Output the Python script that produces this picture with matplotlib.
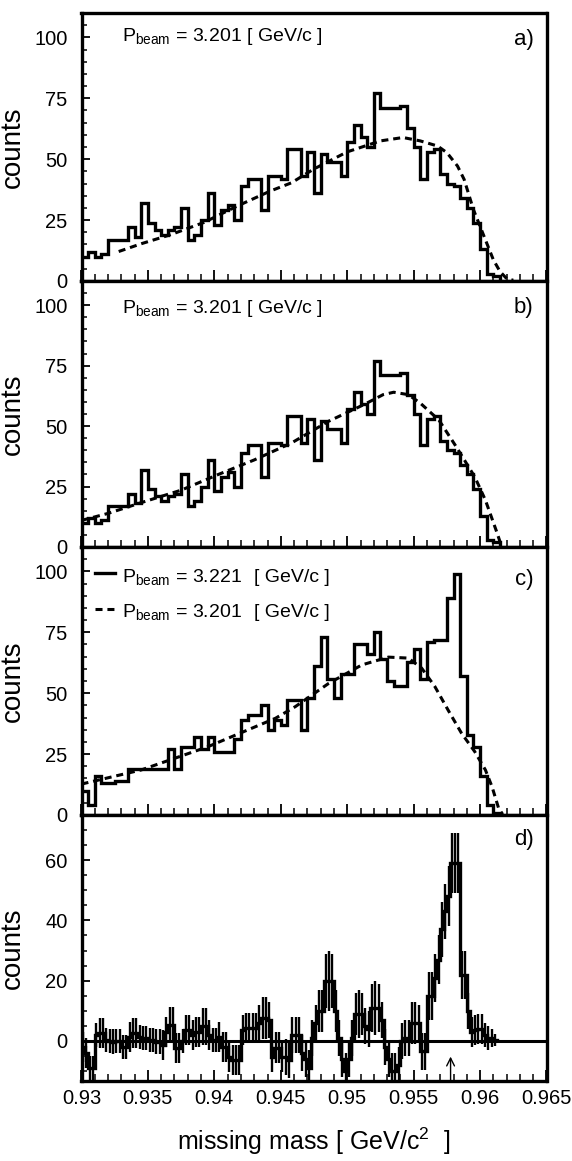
import matplotlib
matplotlib.use('Agg')
import matplotlib.pyplot as plt
import numpy as np
from matplotlib.ticker import MultipleLocator, FixedLocator

plt.rcParams['font.family'] = ['Liberation Sans', 'DejaVu Sans']
plt.rcParams['mathtext.default'] = 'regular'

# ---------------- data ----------------
bin_lo = 0.93
bin_w = 0.0005          # panels a-c
bin_w_d = 0.00025       # panel d

# P_beam = 3.201 GeV/c histogram (panels a, b)
hist_3201 = [10, 12, 10, 11, 17, 17, 17, 22, 18, 32,
             24, 21, 19, 21, 22, 30, 17, 19, 25, 36,
             23, 29, 31, 25, 39, 42, 42, 29, 43, 43,
             42, 54, 54, 43, 53, 36, 52, 49, 49, 43,
             57, 64, 59, 55, 77, 71, 71, 71, 72, 63,
             55, 42, 53, 54, 44, 40, 39, 34, 30, 24,
             13, 3, 2]

# P_beam = 3.221 GeV/c histogram (panel c)
hist_3221 = [10, 4, 16, 13, 13, 14, 14, 19, 19, 19,
             19, 19, 19, 27, 19, 28, 28, 32, 27, 32,
             26, 26, 26, 31, 39, 41, 41, 45, 35, 39,
             37, 47, 47, 35, 48, 61, 73, 56, 48, 58,
             58, 70, 70, 66, 75, 64, 55, 53, 53, 63,
             68, 56, 71, 72, 72, 89, 99, 57, 33, 28,
             16, 4, 1]

# difference spectrum (panel d)
diff_vals = [-2, -4, -9, -9, 2, 2.5, 2.5, 0.3, 0, -0.2,
             0, 0, -2, -2, 1.4, 2.5, 2.5, 1.4, 1, 1,
             0.3, 0.3, -0.2, -0.2, -1.3, 3, 5.3, 5.3, -2.4, -2.4,
             0, 3.6, 3.6, 2, 3, 3, 4.8, 4.8, 2, 0.3,
             0.3, 1.4, -2, -2, -5.2, -6.3, -6.3, -6.3, 3.6, 4.2,
             4.2, 4.2, 4.2, 5.9, 7.5, 7.5, 7, -5.2, -2.2, -2.2,
             -5.2, -5.2, -6.3, 2, 2, 2,
             -4, -6, -9, 1, 6, 10, 10, 20, 20, 20,
             10, 1, -6, -10, -6, 1, 9, 9, 9, 5,
             4, 11, 11, 11, 7, -2, -6, -10, -10, -8,
             0, 1, 1, 6, 6, 6, -3.5, -3.5, 15, 15,
             21, 27, 37, 43, 48, 59, 59, 59, 22, 22,
             10, 3, 3.6, 4, 4, 2, 1, 1, 0.3]
diff_err = [5, 5, 4, 4, 4, 5, 5, 4, 4, 4,
            4, 4, 4, 4, 5, 5, 5, 4, 4, 4,
            4, 4, 4, 4, 5, 5, 6, 6, 5, 5,
            4, 5, 5, 5, 5, 5, 6, 6, 5, 4,
            4, 5, 5, 5, 5, 5, 5, 5, 5, 5,
            5, 5, 5, 6, 7, 7, 6, 5, 5, 5,
            5, 6, 6, 6, 6, 6,
            6, 6, 6, 6, 6, 7, 7, 9, 10, 9,
            7, 6, 6, 6, 6, 6, 7, 8, 7, 6,
            6, 8, 9, 8, 6, 6, 6, 6, 6, 6,
            6, 6, 6, 7, 7, 6, 6, 6, 8, 8,
            8, 8, 9, 9, 10, 10, 10, 10, 8, 8,
            6, 5, 5, 5, 5, 4, 4, 3, 2]

# dashed fit curves
curve_a_x = [0.9328, 0.9345, 0.9367, 0.9392, 0.9417, 0.9442, 0.9458, 0.9475,
             0.9500, 0.9525, 0.9542, 0.9555, 0.9568, 0.9575, 0.9583, 0.9588,
             0.9595, 0.9603, 0.9610, 0.9615, 0.9620, 0.9625]
curve_a_y = [12.1, 15.3, 19.0, 24.0, 30.7, 36.9, 40.3, 46.0,
             53.0, 57.5, 58.9, 57.5, 55.4, 52.7, 47.2, 41.7,
             29.3, 18.3, 8.7, 3.9, 1.0, 0.3]

curve_b_x = [0.9300, 0.9320, 0.9347, 0.9375, 0.9403, 0.9430, 0.9458, 0.9486,
             0.9513, 0.9527, 0.9535, 0.9546, 0.9555, 0.9569, 0.9582, 0.9596,
             0.9604, 0.9613, 0.9616]
curve_b_y = [11, 13.9, 18.7, 23.5, 30, 36, 43, 52,
             59, 63, 64, 63, 59.5, 52.5, 41.5, 29,
             19.4, 5.5, 0.5]

curve_c_x = [0.9300, 0.9345, 0.9395, 0.9446, 0.9461, 0.9486, 0.9511, 0.9531,
             0.9546, 0.9556, 0.9566, 0.9576, 0.9586, 0.9596, 0.9604, 0.9609,
             0.9614, 0.9617]
curve_c_y = [12.7, 18.5, 28, 39.7, 44.5, 54, 61.6, 64.8,
             64.4, 60.3, 52.7, 43, 33.6, 26, 18.5, 11.6,
             2.7, 0.3]

eta_prime_mass = 0.95778

x_ticks = [0.93, 0.935, 0.94, 0.945, 0.95, 0.955, 0.96, 0.965]
x_ticklabels = ['0.93', '0.935', '0.94', '0.945', '0.95', '0.955', '0.96', '0.965']
y_ticks_abc = [0, 25, 50, 75, 100]
y_ticks_d = [0, 20, 40, 60]

# ---------------- figure ----------------
W_PX, H_PX = 572, 1161
fig = plt.figure(figsize=(W_PX / 100, H_PX / 100), dpi=100)
LEFT, RIGHT = 81.5, 546.5
panels_px = [(13, 281), (281, 547), (547, 815), (815, 1081)]

axes = []
for top, bot in panels_px:
    ax = fig.add_axes([LEFT / W_PX, 1 - bot / H_PX, (RIGHT - LEFT) / W_PX, (bot - top) / H_PX])
    axes.append(ax)

DASH = (0, (2.3, 1.6))
HLW = 2.4
DLW = 2.2
TXT = 14

def style(ax, ylim, yticks, show_x):
    ax.set_xlim(0.93, 0.965)
    ax.set_ylim(*ylim)
    for s in ax.spines.values():
        s.set_linewidth(2.4)
    ax.xaxis.set_major_locator(FixedLocator(x_ticks))
    ax.xaxis.set_minor_locator(MultipleLocator(0.001))
    ax.yaxis.set_major_locator(FixedLocator(yticks))
    ax.yaxis.set_minor_locator(MultipleLocator(5))
    ax.tick_params(axis='x', which='major', direction='in', length=8, width=1.3,
                   top=False, labelsize=14.5, pad=6)
    ax.tick_params(axis='x', which='minor', direction='in', length=5, width=1.1, top=False)
    ax.tick_params(axis='y', which='major', direction='in', length=6, width=1.3,
                   right=False, labelsize=14.5, pad=10)
    ax.tick_params(axis='y', which='minor', direction='in', length=3.5, width=1.1, right=False)
    if show_x:
        ax.set_xticklabels(x_ticklabels)
    else:
        ax.tick_params(axis='x', labelbottom=False)
    ax.set_ylabel('counts', fontsize=20)
    ax.yaxis.set_label_coords(-0.12, 0.5)

edges = bin_lo + bin_w * np.arange(len(hist_3201) + 1)
edges_c = bin_lo + bin_w * np.arange(len(hist_3221) + 1)
edges_d = bin_lo + bin_w_d * np.arange(len(diff_vals) + 1)

# panel a
ax = axes[0]
ax.stairs(hist_3201, edges, baseline=0, color='black', lw=HLW)
ax.plot(curve_a_x, curve_a_y, color='black', lw=DLW, linestyle=DASH)
style(ax, (0, 110), y_ticks_abc, False)
ax.text(0.088, 0.895, r'P$_{beam}$ = 3.201 [ GeV/c ]', transform=ax.transAxes,
        fontsize=TXT, ha='left', va='baseline')
ax.text(0.972, 0.88, 'a)', transform=ax.transAxes, fontsize=16, ha='right', va='baseline')

# panel b
ax = axes[1]
ax.stairs(hist_3201, edges, baseline=0, color='black', lw=HLW)
ax.plot(curve_b_x, curve_b_y, color='black', lw=DLW, linestyle=DASH)
style(ax, (0, 110), y_ticks_abc, False)
ax.text(0.088, 0.88, r'P$_{beam}$ = 3.201 [ GeV/c ]', transform=ax.transAxes,
        fontsize=TXT, ha='left', va='baseline')
ax.text(0.972, 0.88, 'b)', transform=ax.transAxes, fontsize=16, ha='right', va='baseline')

# panel c
ax = axes[2]
ax.stairs(hist_3221, edges_c, baseline=0, color='black', lw=HLW)
ax.plot(curve_c_x, curve_c_y, color='black', lw=DLW, linestyle=DASH)
style(ax, (0, 110), y_ticks_abc, False)
ax.plot([0.029, 0.072], [0.902, 0.902], transform=ax.transAxes, color='black', lw=2.4)
ax.plot([0.029, 0.072], [0.769, 0.769], transform=ax.transAxes, color='black', lw=DLW,
        linestyle=DASH)
ax.text(0.088, 0.87, r'P$_{beam}$ = 3.221', transform=ax.transAxes,
        fontsize=TXT, ha='left', va='baseline')
ax.text(0.372, 0.87, '[ GeV/c ]', transform=ax.transAxes,
        fontsize=TXT, ha='left', va='baseline')
ax.text(0.088, 0.74, r'P$_{beam}$ = 3.201', transform=ax.transAxes,
        fontsize=TXT, ha='left', va='baseline')
ax.text(0.372, 0.74, '[ GeV/c ]', transform=ax.transAxes,
        fontsize=TXT, ha='left', va='baseline')
ax.text(0.972, 0.858, 'c)', transform=ax.transAxes, fontsize=16, ha='right', va='baseline')

# panel d
ax = axes[3]
centers_d = 0.5 * (edges_d[:-1] + edges_d[1:])
ax.axhline(0, color='black', lw=2.2)
ax.stairs(diff_vals, edges_d, baseline=0, color='black', lw=HLW)
ax.errorbar(centers_d, diff_vals, yerr=diff_err, fmt='none', ecolor='black',
            elinewidth=1.7, capsize=0)
ax.annotate('', xy=(eta_prime_mass, -5.2), xytext=(eta_prime_mass, -13.3),
            arrowprops=dict(arrowstyle='->', color='black', lw=1.0,
                            shrinkA=0, shrinkB=0, mutation_scale=14))
style(ax, (-13.3, 75), y_ticks_d, True)
ax.text(0.972, 0.887, 'd)', transform=ax.transAxes, fontsize=16, ha='right', va='baseline')

fig.text(((LEFT + RIGHT) / 2) / W_PX, 1 - 1150 / H_PX, r'missing mass [ GeV/c$^2$  ]',
         fontsize=18, ha='center', va='baseline')

fig.savefig('out.png', dpi=100)
